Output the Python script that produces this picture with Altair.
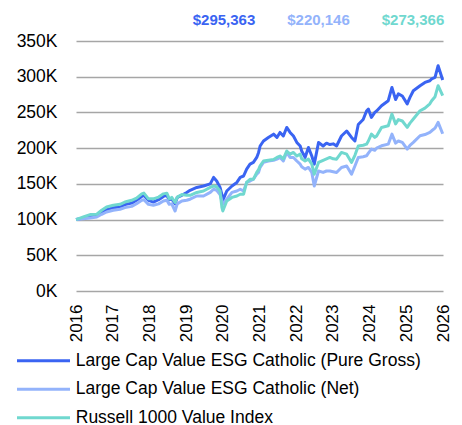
import altair as alt
import pandas as pd

# months since the first data point (labelled 2016)
months = [0, 2.4, 4.6, 6.8, 8.4, 10, 12.2, 14.4, 16, 18.2, 19.8, 21.5, 22.2, 23.7, 25.3, 27,
          28.6, 29.7, 30.5, 31.3, 32.4, 33.1, 34.6, 36.2, 37.3, 39.5, 41.7, 43.9, 45, 46, 47.1,
          47.7, 48, 49.3, 51, 52.6, 53.7, 54.8, 55.8, 56.9, 58, 59.1, 59.7, 60.2, 61.3, 62.9,
          64.6, 65.7, 66.7, 67.8, 68.9, 70, 71.1, 72.2, 73.3, 73.8, 74.9, 76, 77.1, 77.9, 79.3,
          80.8, 81.9, 83, 84.1, 85.2, 86.8, 88.5, 90.1, 91.2, 92.3, 93.9, 95, 95.6, 96.6, 97.7,
          98.3, 99.9, 102.1, 103.3, 104.5, 105.4, 106.7, 108.3, 109.2, 110.3, 112.5, 114.1,
          115.7, 116.3, 117.4, 118.4, 119.9]

# values in $K
gross = [100, 102, 104.6, 106, 110.6, 114, 116.7, 117.6, 121, 123, 127, 132.4, 133.8, 127, 124.5,
         127.8, 132.4, 133.8, 127.8, 129, 122, 131, 134, 138, 141, 145, 147, 150, 159, 154, 145,
         135, 127, 140, 147, 152, 159, 161, 170.6, 177.6, 180, 187, 194, 203, 210, 215, 219.6,
         215, 222, 217, 229, 222, 217, 208, 203, 196, 187, 201, 189, 177.6, 208, 203, 207, 205,
         206, 203, 217, 224, 215, 210, 233, 240, 252, 254.7, 243, 250, 252, 259.3, 266.4, 285,
         268, 276, 273, 262, 271, 280.4, 287.4, 292, 294.4, 297, 299, 315.4, 295.363]

net = [100, 101, 102.3, 103.7, 107.4, 110.6, 113, 114.4, 116.7, 118.5, 122.2, 127, 127.8, 121.3,
       120, 122, 126, 127, 121.3, 122, 112, 122, 126, 127, 128.5, 133, 133, 138, 142.5, 141, 135,
       126, 121.5, 128.5, 138, 140, 142.5, 140, 152, 154, 156.5, 163.5, 166, 173, 180, 182, 183,
       184.6, 187, 182, 194, 187, 187, 182, 177.6, 174, 170.6, 173, 166, 147, 168, 166, 168, 168,
       167, 166, 173, 175, 163.6, 175, 187, 188, 189.3, 193, 198.6, 197, 200, 203.3, 205.6,
       219.6, 207, 210, 208, 198.6, 204, 208, 217.3, 219, 222, 224.3, 228, 236, 220.146]

index_vals = [100, 103.7, 107, 107.4, 113, 117.6, 120, 121.3, 124.5, 127, 130, 136, 137, 129,
              129, 131.5, 136, 137, 129, 131, 124, 131.5, 135, 134, 134, 138, 140, 145, 147, 146,
              140, 117, 112, 126, 131, 133, 135.5, 135.5, 152, 156.5, 156.5, 166, 170, 175.2, 182,
              183, 184, 187, 189, 185, 196, 191.6, 194, 189, 191.6, 185, 182, 184.6, 177.6, 163.5,
              180, 183, 185, 187, 185, 184.6, 194, 191.6, 180, 190, 203, 204, 205.6, 210, 219.6,
              215, 217, 229, 231.3, 247.7, 234, 240, 238, 229, 235, 240.7, 252.3, 256, 262, 266.4,
              272, 287.4, 273.366]

series_names = ["Large Cap Value ESG Catholic (Pure Gross)",
                "Large Cap Value ESG Catholic (Net)",
                "Russell 1000 Value Index"]
series_colors = ["#3A64F2", "#93B3FB", "#70D8CF"]
year_ticks = list(range(2016, 2027))
y_ticks = [0, 50, 100, 150, 200, 250, 300, 350]

rows = []
for name, vals in zip(series_names, [gross, net, index_vals]):
    for m, v in zip(months, vals):
        rows.append({"year": 2016 + m / 12, "value": v, "series": name})
df = pd.DataFrame(rows)

final_df = pd.DataFrame({"series": series_names,
                         "final": [gross[-1], net[-1], index_vals[-1]]})

FONT = "Liberation Sans"
color_scale = alt.Scale(domain=series_names, range=series_colors)

lines = alt.Chart(df).mark_line(strokeWidth=3, strokeJoin="round").encode(
    x=alt.X("year:Q",
            scale=alt.Scale(domain=[2016, 2026], nice=False, zero=False),
            axis=alt.Axis(values=year_ticks, format="d", labelAngle=270, title=None,
                          grid=False, domain=False, ticks=False, tickSize=0,
                          labelPadding=13, labelFontSize=17, labelFont=FONT,
                          labelColor="#000000", labelFlush=False, labelOverlap=False)),
    y=alt.Y("value:Q",
            scale=alt.Scale(domain=[0, 350], nice=False),
            axis=alt.Axis(values=y_ticks, labelExpr="datum.value + 'K'", title=None,
                          grid=True, gridColor="#A6A6A6", gridWidth=1.5,
                          domain=False, ticks=False, tickSize=0, labelPadding=19,
                          labelFontSize=17.5, labelFont=FONT, labelColor="#000000")),
    color=alt.Color("series:N", scale=color_scale,
                    legend=alt.Legend(title=None, orient="none", legendX=-59, legendY=311,
                                      direction="vertical",
                                      symbolType="M-5.3,0H5.3", symbolSize=100,
                                      symbolStrokeWidth=3, symbolOffset=17.75,
                                      labelOffset=23.5, rowPadding=9.5,
                                      labelFontSize=17.5, labelFont=FONT,
                                      labelColor="#000000", labelLimit=600)),
)

labels = alt.Chart(final_df).transform_calculate(
    label="format(datum.final * 1000, '$,.0f')"
).mark_text(fontSize=15, fontWeight="bold", font=FONT, baseline="middle",
            align="center").encode(
    x=alt.X("series:N", scale=alt.Scale(type="point", domain=series_names,
                                        range=[148, 337], padding=0), axis=None),
    y=alt.value(-21),
    text="label:N",
    color=alt.Color("series:N", scale=color_scale, legend=None),
)

chart = alt.layer(lines, labels).resolve_scale(x="independent").properties(
    width=367, height=250,
    autosize=alt.AutoSizeParams(type="none"),
    padding={"left": 68, "top": 33, "right": 10, "bottom": 134},
    background="white",
).configure_view(stroke=None)

chart.save("out.html", embed_options={"renderer": "svg", "actions": False})
